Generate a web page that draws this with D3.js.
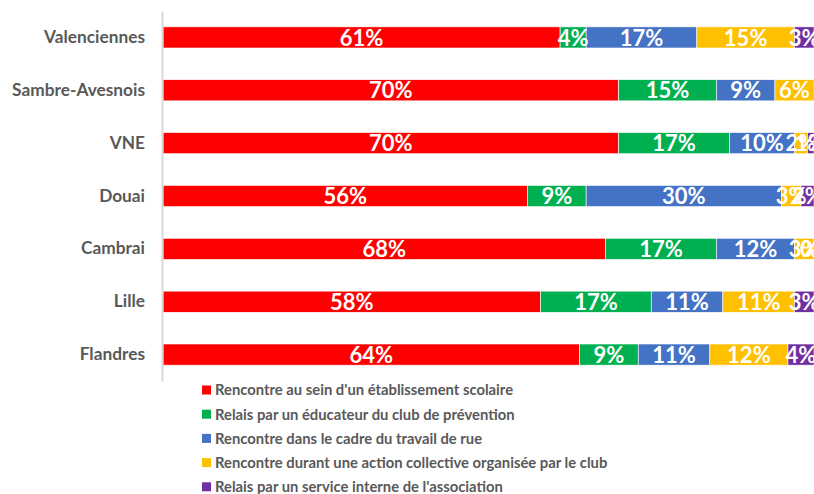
<!DOCTYPE html>
<html>
<head>
<meta charset="utf-8">
<script src="https://cdn.jsdelivr.net/npm/d3@7"></script>
<style>
  body { margin: 0; background: #fff; }
  svg { display: block; }
</style>
</head>
<body>
<script>
const width = 814
const height = 494

const categories = ['Valenciennes', 'Sambre-Avesnois', 'VNE', 'Douai', 'Cambrai', 'Lille', 'Flandres']
const seriesNames = [
    "Rencontre au sein d'un établissement scolaire",
    'Relais par un éducateur du club de prévention',
    'Rencontre dans le cadre du travail de rue',
    'Rencontre durant une action collective organisée par le club',
    "Relais par un service interne de l'association"
]
const ecole = [61, 70, 70, 56, 68, 58, 64]
const educateur = [4, 15, 17, 9, 17, 17, 9]
const rue = [17, 9, 10, 30, 12, 11, 11]
const collective = [15, 6, 2, 3, 3, 11, 12]
const interne = [3, 0, 1, 2, 0.4, 3, 4]
const colors = ['#ff0000', '#00b050', '#4472c4', '#ffc000', '#7030a0']

const seriesValues = [ecole, educateur, rue, collective, interne]
const rows = categories.map((c, i) => {
    const row = { cat: c }
    seriesNames.forEach((s, j) => { row[s] = seriesValues[j][i] })
    return row
})

const stacked = d3.stack().keys(seriesNames)(rows)

const svg = d3.select('body')
    .append('svg')
    .attr('width', width)
    .attr('height', height)

const x = d3.scaleLinear().domain([0, 100]).range([163, 814])
const y = d3.scaleBand()
    .domain(categories)
    .range([11, 381])
    .paddingInner(0.6)
    .paddingOuter(0.3)

const font = 'Lato, "Open Sans", sans-serif'

// bars
const layer = svg.append('g')
    .selectAll('g')
    .data(stacked)
    .join('g')
    .attr('fill', (d, i) => colors[i])

layer.selectAll('rect')
    .data(d => d)
    .join('rect')
    .attr('x', d => x(d[0]))
    .attr('y', d => y(d.data.cat))
    .attr('width', d => x(d[1]) - x(d[0]))
    .attr('height', y.bandwidth())
    .attr('stroke', '#fff')
    .attr('stroke-width', 0.6)

// value labels
const labels = svg.append('g')
stacked.forEach(s => {
    labels.selectAll(null)
        .data(s.filter(d => d[1] - d[0] > 0))
        .join('text')
        .attr('x', d => (x(d[0]) + x(d[1])) / 2)
        .attr('y', d => y(d.data.cat) + y.bandwidth() / 2)
        .attr('dy', '0.37em')
        .attr('text-anchor', 'middle')
        .attr('fill', '#fff')
        .style('font-family', font)
        .style('font-weight', 'bold')
        .style('font-size', '22px')
        .text(d => Math.round(d[1] - d[0]) + '%')
})

// category axis
const yAxis = svg.append('g')
    .attr('transform', 'translate(162,0)')
    .call(d3.axisLeft(y).tickSize(0).tickPadding(17))
yAxis.select('.domain')
    .attr('stroke', '#d9d9d9')
    .attr('stroke-width', 2)
yAxis.selectAll('text')
    .attr('fill', '#595959')
    .style('font-family', font)
    .style('font-weight', 'bold')
    .style('font-size', '17.3px')

// legend
const legend = svg.append('g')
    .selectAll('g')
    .data(seriesNames)
    .join('g')
    .attr('transform', (d, i) => `translate(202,${390 + i * 24.2})`)

legend.append('rect')
    .attr('x', 0)
    .attr('y', -4.5)
    .attr('width', 9)
    .attr('height', 9)
    .attr('fill', (d, i) => colors[i])

legend.append('text')
    .attr('x', 13)
    .attr('dy', '0.36em')
    .attr('fill', '#595959')
    .style('font-family', font)
    .style('font-weight', 'bold')
    .style('font-size', '14.8px')
    .text(d => d)
</script>
</body>
</html>
